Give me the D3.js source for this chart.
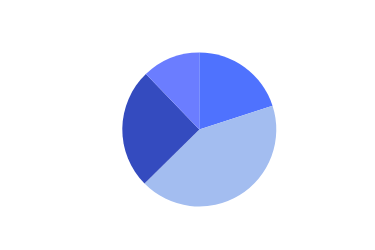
<!DOCTYPE html>
<html>
<head>
<meta charset="utf-8">
<script src="https://cdn.jsdelivr.net/npm/d3@7"></script>
<style>
  html, body { margin: 0; padding: 0; background: #fff; }
</style>
</head>
<body>
<svg width="375" height="250"></svg>
<script>
const width = 375,
  height = 250;

// Slice values, clockwise from 12 o'clock
const categories = ['A', 'B', 'C', 'D'];
const values = [20, 42.6, 25.2, 12.2];
const colors = ['#4f72fe', '#a3bdf0', '#344bbf', '#6b7dff'];

const svg = d3.select('svg');
const radius = 77;

const pie = d3.pie().sort(null).value((d) => d.value);
const arc = d3.arc().innerRadius(0).outerRadius(radius);
const color = d3.scaleOrdinal().domain(categories).range(colors);

const data = categories.map((c, i) => ({ name: c, value: values[i] }));

svg
  .append('g')
  .attr('transform', `translate(199.3,129.5)`)
  .selectAll('path')
  .data(pie(data))
  .join('path')
  .attr('fill', (d) => color(d.data.name))
  .attr('d', arc);
</script>
</body>
</html>
